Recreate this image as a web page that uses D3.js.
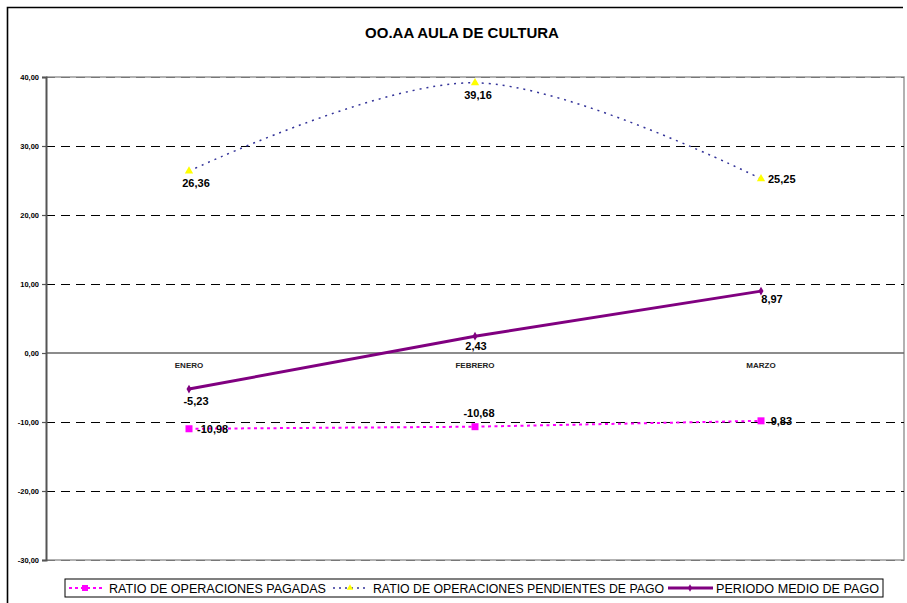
<!DOCTYPE html>
<html><head><meta charset="utf-8">
<script src="https://cdn.jsdelivr.net/npm/d3@7"></script>
<style>body{margin:0;background:#fff}svg{display:block}text{font-family:"Liberation Sans",Arial,sans-serif}</style>
</head><body>
<svg id="c" width="907" height="603"></svg>
<script>
const title = "OO.AA AULA DE CULTURA";
const categories = ["ENERO", "FEBRERO", "MARZO"];
const pagadas = [-10.98, -10.68, -9.83];
const pendientes = [26.36, 39.16, 25.25];
const periodoMedio = [-5.23, 2.43, 8.97];
const yTicks = [40, 30, 20, 10, 0, -10, -20, -30];
const seriesNames = ["RATIO DE OPERACIONES PAGADAS", "RATIO DE OPERACIONES PENDIENTES DE PAGO", "PERIODO MEDIO DE PAGO"];

// label offsets (styling, relative to point)
const offPag = [[8, 4, "start"], [4, -10, "middle"], [6, 4, "start"]];
const offPen = [[7, 16, "middle"], [3, 16, "middle"], [7, 4, "start"]];
const offPer = [[7, 16, "middle"], [1, 14, "middle"], [11, 12, "middle"]];

const svg = d3.select("#c");
const L = 46, R = 904, T = 77, B = 560;
const x = d3.scaleBand().domain(categories).range([L, R]);
const cx = c => x(c) + x.bandwidth() / 2;
const y = d3.scaleLinear().domain([-30, 40]).range([B, T]);
const fmt = v => d3.format(".2f")(v).replace(".", ",").replace("\u2212", "-");

// outer frame
svg.append("path").attr("d", `M7.5,603 L7.5,7.5 L903,7.5`).attr("fill", "none").attr("stroke", "#000").attr("stroke-width", 1.6);

// title
svg.append("text").attr("x", 462).attr("y", 38).attr("text-anchor", "middle")
  .attr("font-size", 15).attr("font-weight", "bold").text(title);

// plot border (gray)
svg.append("path").attr("d", `M${L},${T} L${R},${T} L${R},${B} L${L},${B}`).attr("fill", "none")
  .attr("stroke", "#999").attr("stroke-width", 1.5);

// gridlines
svg.append("g").selectAll("line").data(yTicks.filter(t => t !== 0)).join("line")
  .attr("x1", L).attr("x2", R).attr("y1", d => Math.round(y(d)) + 0.5).attr("y2", d => Math.round(y(d)) + 0.5)
  .attr("stroke", d => (d === 40 || d === -30) ? "#777" : "#000").attr("stroke-width", 1)
  .attr("stroke-dasharray", "9,6");

// zero line
svg.append("line").attr("x1", L).attr("x2", R).attr("y1", y(0)).attr("y2", y(0))
  .attr("stroke", "#666").attr("stroke-width", 1.5);

// y axis
const yAxis = d3.axisLeft(y).tickValues(yTicks).tickFormat(fmt).tickSize(4).tickPadding(3);
const ga = svg.append("g").attr("transform", `translate(${L},0)`).call(yAxis);
ga.select(".domain").attr("stroke", "#555").attr("stroke-width", 2);
ga.selectAll(".tick line").attr("stroke", "#555").attr("stroke-width", 1.2);
ga.selectAll(".tick text").attr("font-size", 7.5).attr("font-weight", "bold").attr("fill", "#000")
  .attr("font-family", "Liberation Sans, Arial, sans-serif");

// category labels
svg.append("g").selectAll("text").data(categories).join("text")
  .attr("x", d => cx(d)).attr("y", y(0) + 15).attr("text-anchor", "middle")
  .attr("font-size", 8).attr("font-weight", "bold").attr("fill", "#222").text(d => d);

// pendientes: smooth dotted navy
const pts = (arr) => arr.map((v, i) => [cx(categories[i]), y(v)]);
svg.append("path").attr("d", d3.line().curve(d3.curveCardinal.tension(0))(pts(pendientes)))
  .attr("fill", "none").attr("stroke", "#333399").attr("stroke-width", 1.5).attr("stroke-dasharray", "2,5");
// pagadas: magenta dotted
svg.append("path").attr("d", d3.line()(pts(pagadas)))
  .attr("fill", "none").attr("stroke", "#FF00FF").attr("stroke-width", 2).attr("stroke-dasharray", "3,3.5");
// periodo medio: purple solid
svg.append("path").attr("d", d3.line()(pts(periodoMedio)))
  .attr("fill", "none").attr("stroke", "#800080").attr("stroke-width", 3);

// markers
svg.append("g").selectAll("rect").data(pagadas).join("rect")
  .attr("x", (d, i) => cx(categories[i]) - 3.5).attr("y", d => y(d) - 3.5).attr("width", 7).attr("height", 7).attr("fill", "#FF00FF");
const tri = d3.symbol().type(d3.symbolTriangle).size(30);
svg.append("g").selectAll("path").data(pendientes).join("path")
  .attr("d", tri).attr("transform", (d, i) => `translate(${cx(categories[i])},${y(d)})`).attr("fill", "#FFFF00");
const dia = d3.symbol().type(d3.symbolDiamond).size(22);
svg.append("g").selectAll("path").data(periodoMedio).join("path")
  .attr("d", dia).attr("transform", (d, i) => `translate(${cx(categories[i])},${y(d)})`).attr("fill", "#800080");

// data labels
function labels(arr, off) {
  svg.append("g").selectAll("text").data(arr).join("text")
    .attr("x", (d, i) => cx(categories[i]) + off[i][0]).attr("y", (d, i) => y(d) + off[i][1])
    .attr("text-anchor", (d, i) => off[i][2])
    .attr("font-size", 11).attr("font-weight", "bold").attr("fill", "#000").text(d => fmt(d));
}
labels(pagadas, offPag);
labels(pendientes, offPen);
labels(periodoMedio, offPer);

// legend
const lg = svg.append("g");
lg.append("rect").attr("x", 65).attr("y", 579).attr("width", 818).attr("height", 18)
  .attr("fill", "#fff").attr("stroke", "#000").attr("stroke-width", 1);
const ly = 588;
lg.append("line").attr("x1", 69).attr("x2", 103).attr("y1", ly).attr("y2", ly).attr("stroke", "#FF00FF").attr("stroke-width", 2).attr("stroke-dasharray", "3,3");
lg.append("rect").attr("x", 82).attr("y", ly - 3).attr("width", 6).attr("height", 6).attr("fill", "#FF00FF");
lg.append("line").attr("x1", 333).attr("x2", 368).attr("y1", ly).attr("y2", ly).attr("stroke", "#333399").attr("stroke-width", 1.5).attr("stroke-dasharray", "2,4");
lg.append("path").attr("d", d3.symbol().type(d3.symbolTriangle).size(18)).attr("transform", `translate(350,${ly})`).attr("fill", "#FFFF00");
lg.append("line").attr("x1", 668).attr("x2", 713).attr("y1", ly).attr("y2", ly).attr("stroke", "#800080").attr("stroke-width", 3);
lg.append("path").attr("d", d3.symbol().type(d3.symbolDiamond).size(16)).attr("transform", `translate(690,${ly})`).attr("fill", "#800080");
const lx = [109, 373, 716];
const lw = [217, 291, 163];
lg.selectAll("text.l").data(seriesNames).join("text").attr("class", "l")
  .attr("x", (d, i) => lx[i]).attr("y", ly + 4.5).attr("font-size", 12)
  .attr("textLength", (d, i) => lw[i]).attr("lengthAdjust", "spacingAndGlyphs")
  .attr("fill", "#000").text(d => d);
</script>
</body></html>
